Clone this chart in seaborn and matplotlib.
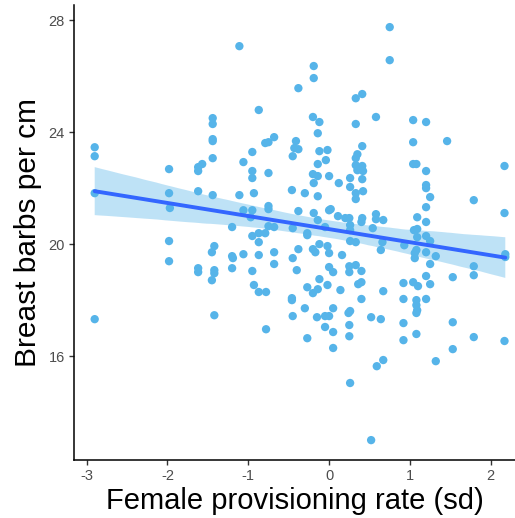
import numpy as np
import pandas as pd
import matplotlib
matplotlib.use("Agg")
import matplotlib.pyplot as plt
import seaborn as sns

# ---- data (female provisioning rate in sd, breast barbs per cm) ----
x_left = [-2.90, -2.90, -2.90, -2.90, -1.98, -1.98, -1.97, -1.98, -1.98, -1.62,
          -1.57, -1.62, -1.62, -1.62, -1.62, -1.44, -1.44, -1.44, -1.44, -1.44,
          -1.44, -1.42, -1.45, -1.42, -1.42, -1.45, -1.42, -1.11, -0.87, -0.95,
          -1.06, -0.95, -0.95, -0.93, -1.11, -0.75, -0.79, -0.75, -0.68, -1.06,
          -0.95, -0.97, -1.20, -0.75, -0.75, -0.46, -1.20, -1.19, -1.06, -1.20,
          -0.95, -0.93, -0.87, -0.78, -0.87, -0.68, -0.68, -0.95, -0.87, -0.79,
          -0.87, -0.75, -0.68, -0.78]
y_left = [23.46, 23.14, 21.82, 17.32, 22.68, 21.82, 21.29, 20.11, 19.39, 22.75,
          22.86, 22.61, 21.89, 19.14, 19.00, 24.50, 24.29, 23.75, 23.68, 23.07,
          21.75, 19.93, 19.71, 19.07, 18.96, 18.71, 17.46, 27.07, 24.79, 23.29,
          22.93, 22.61, 22.36, 21.82, 21.75, 22.54, 23.61, 23.64, 23.82, 21.21,
          21.21, 20.96, 20.61, 21.36, 21.25, 21.93, 19.57, 19.50, 19.64, 19.14,
          19.04, 18.54, 18.29, 18.29, 19.61, 19.71, 19.29, 20.29, 20.39, 20.39,
          20.07, 20.64, 20.61, 16.96]

x_mid_upper = [0.75, 0.75, -0.19, -0.19, -0.38, 0.33, 0.41, -0.20, -0.12, -0.14,
               0.33, 0.58, 1.04, 1.20, 1.04, -0.41, -0.43, -0.38, -0.45, -0.12,
               -0.02, -0.04, -0.14, 0.41, 0.35, 0.33, 0.33, 0.41, 0.35, 0.42,
               0.41, -0.20, -0.14, -0.19, 0.00, 0.12, 0.26, 0.26, 0.33, 0.42,
               0.33, -0.30, -0.14, 1.04, 1.08, 1.20, 1.20, 1.20, 1.25, 1.20]
y_mid_upper = [27.75, 26.57, 26.36, 25.93, 25.57, 25.21, 25.36, 24.54, 24.36, 23.96,
               24.29, 24.54, 24.43, 24.36, 23.64, 23.68, 23.43, 23.39, 23.14, 23.32,
               23.36, 23.00, 22.86, 23.50, 23.21, 23.07, 22.82, 22.79, 22.64, 22.61,
               22.32, 22.50, 22.43, 22.18, 22.43, 22.18, 22.36, 22.04, 21.82, 21.89,
               21.61, 21.82, 21.71, 22.86, 22.86, 22.61, 22.11, 22.00, 21.68, 21.32]

x_mid_band = [-0.38, -0.19, 0.00, 0.02, -0.14, 0.11, 0.20, 0.25, 0.41, 0.40,
              0.26, 0.58, 0.58, 0.67, 1.09, 1.20, -0.45, 0.54, 1.09, -0.27,
              -0.27, -0.05, 0.26, 0.26, 0.33, 0.66, 0.64, 1.05, 1.09, 1.20,
              1.25, 0.93, 1.08, 1.06, 1.20, 1.32, 1.06, 1.25]
y_mid_band = [21.18, 21.11, 21.21, 21.25, 20.86, 21.00, 20.93, 20.93, 20.93, 20.79,
              20.68, 21.07, 20.89, 20.86, 20.96, 20.79, 20.57, 20.57, 20.54, 20.39,
              20.32, 20.61, 20.50, 20.11, 20.07, 20.07, 19.79, 20.50, 20.25, 20.29,
              20.11, 19.96, 19.79, 19.68, 19.71, 19.57, 19.50, 19.29]

x_mid_lower = [-0.38, -0.20, -0.17, -0.12, -0.02, 0.00, 0.16, -0.45, -0.40, 0.00,
               0.05, 0.25, 0.33, 0.25, 0.40, 1.20, -0.12, -0.02, -0.27, -0.20,
               -0.14, 0.14, 0.36, 0.40, 0.92, 1.04, 1.10, 1.25, 0.67, -0.46,
               -0.46, -0.30, 0.05, 0.40, 0.92, 1.08, 1.08, 1.09, 1.08, 1.20,
               -0.45, -0.15, -0.05, 0.00, 0.26, 0.24, 0.52, 0.64, -0.05, 0.05,
               0.25, 0.25, 0.92, 0.92, 1.08, -0.27, 0.05, 0.59, 0.67, 1.32,
               0.26, 0.52]
y_mid_lower = [19.82, 19.82, 19.71, 20.00, 19.93, 19.68, 19.61, 19.50, 19.07, 19.18,
               19.00, 19.21, 19.25, 19.00, 19.04, 18.86, 18.75, 18.54, 18.46, 18.25,
               18.39, 18.36, 18.57, 18.64, 18.61, 18.64, 18.50, 18.57, 18.32, 18.07,
               18.00, 17.71, 17.71, 18.04, 18.04, 18.00, 17.82, 17.64, 17.54, 18.04,
               17.43, 17.39, 17.43, 17.43, 17.61, 17.54, 17.39, 17.32, 17.04, 16.86,
               17.11, 16.71, 17.18, 16.57, 16.79, 16.64, 16.29, 15.64, 15.86, 15.82,
               15.04, 13.00]

x_right = [1.46, 2.17, 1.79, 2.17, 2.18, 2.18, 1.79, 1.79, 1.53, 1.53, 1.79, 2.17, 1.53]
y_right = [23.68, 22.79, 21.57, 21.11, 19.64, 19.54, 19.21, 18.89, 18.82, 17.21, 16.68, 16.54, 16.25]

x_ticks = [-3, -2, -1, 0, 1, 2]
y_ticks = [16, 20, 24, 28]
x_label = "Female provisioning rate (sd)"
y_label = "Breast barbs per cm"

df = pd.DataFrame({
    "prov": x_left + x_mid_upper + x_mid_band + x_mid_lower + x_right,
    "barbs": y_left + y_mid_upper + y_mid_band + y_mid_lower + y_right,
})

# ---- styling ----
sns.set_theme(style="ticks")
plt.rcParams["font.family"] = ["Liberation Sans", "DejaVu Sans"]

point_col = "#56B4E9"
line_col = "#3366FF"

fig = plt.figure(figsize=(5.15, 5.18), dpi=100)
ax = fig.add_axes([74 / 515, 58 / 518, 441 / 515, 455 / 518])

sns.scatterplot(data=df, x="prov", y="barbs", ax=ax, color=point_col,
                s=36, edgecolor="none", linewidth=0, zorder=2)
n_before = len(ax.collections)
sns.regplot(data=df, x="prov", y="barbs", ax=ax, scatter=False, ci=95,
            n_boot=2000, seed=3, color=point_col, line_kws={"lw": 0})
for c in ax.collections[n_before:]:
    c.set_alpha(0.38)
    c.set_edgecolor("none")
    c.set_zorder(3)
sns.regplot(data=df, x="prov", y="barbs", ax=ax, scatter=False, ci=None,
            color=line_col, line_kws={"lw": 2.8, "zorder": 4})

ax.set_xlim(-3.156, 2.30)
ax.set_ylim(12.29, 28.54)
ax.set_xticks(x_ticks)
ax.set_xticklabels([str(t) for t in x_ticks])
ax.set_yticks(y_ticks)
ax.set_yticklabels([str(t) for t in y_ticks])

for side in ["top", "right"]:
    ax.spines[side].set_visible(False)
for side in ["left", "bottom"]:
    ax.spines[side].set_color("black")
    ax.spines[side].set_linewidth(1.1)

ax.tick_params(axis="both", direction="out", length=3.5, width=1.0,
               color="#333333", labelcolor="#4D4D4D", labelsize=10.5, pad=3)

ax.set_xlabel(x_label, fontsize=21, color="black", labelpad=3)
ax.set_ylabel(y_label, fontsize=21.5, color="black", labelpad=5)

fig.savefig("out.png", dpi=100)
